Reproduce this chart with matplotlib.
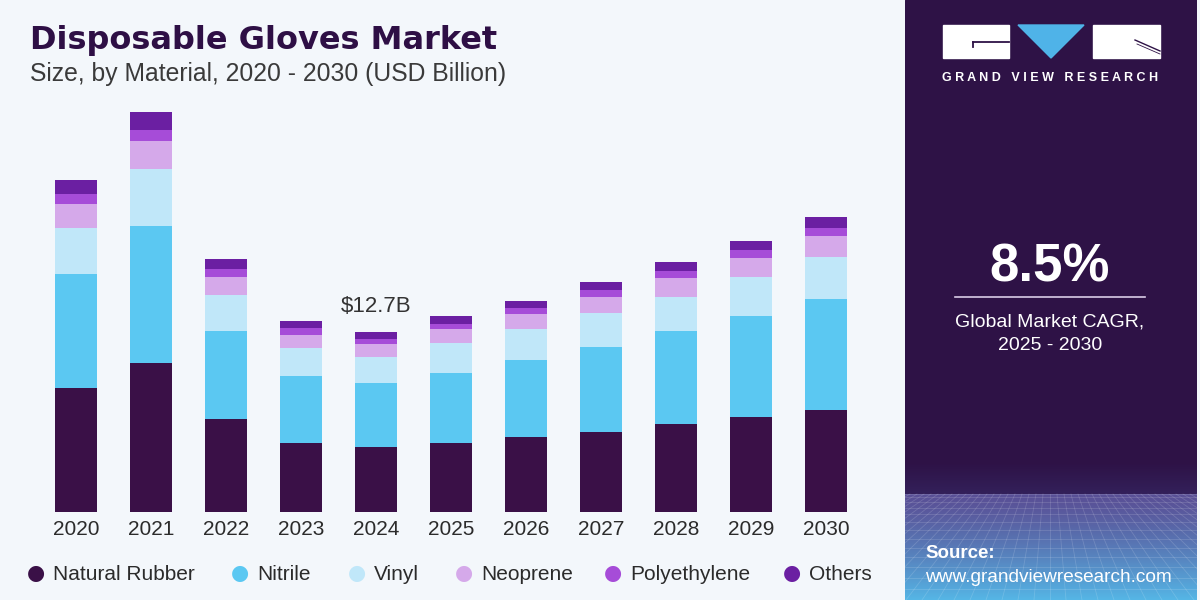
import numpy as np
import matplotlib
matplotlib.use('Agg')
import matplotlib.pyplot as plt
from matplotlib.patches import Rectangle, Polygon

plt.rcParams['font.family'] = ['Liberation Sans', 'DejaVu Sans']

# ---------------------------------------------------------------------------
# Données (USD milliards)
# ---------------------------------------------------------------------------
years = ['2020', '2021', '2022', '2023', '2024', '2025', '2026', '2027', '2028', '2029', '2030']
natural_rubber = [8.71, 10.47, 6.55, 4.88, 4.60, 4.88, 5.30, 5.66, 6.18, 6.67, 7.18]
nitrile = [8.03, 9.69, 6.20, 4.72, 4.51, 4.93, 5.40, 5.99, 6.57, 7.14, 7.82]
vinyl = [3.28, 3.99, 2.54, 1.93, 1.83, 2.07, 2.16, 2.35, 2.42, 2.73, 2.98]
neoprene = [1.65, 1.97, 1.25, 0.94, 0.89, 0.99, 1.06, 1.13, 1.30, 1.34, 1.48]
polyethylene = [0.70, 0.82, 0.58, 0.47, 0.33, 0.37, 0.42, 0.51, 0.51, 0.54, 0.56]
others = [1.01, 1.24, 0.70, 0.54, 0.54, 0.56, 0.54, 0.58, 0.66, 0.70, 0.77]

series = [
    ('Natural Rubber', natural_rubber, '#3A1047'),
    ('Nitrile', nitrile, '#5BC8F2'),
    ('Vinyl', vinyl, '#C0E7F9'),
    ('Neoprene', neoprene, '#D5A9EA'),
    ('Polyethylene', polyethylene, '#A64CD8'),
    ('Others', others, '#6B1FA2'),
]
highlight_year = '2024'
highlight_label = '$12.7B'

BG = '#F3F7FB'
PANEL = '#2E1246'
TXT = '#2B2B2B'

fig = plt.figure(figsize=(12, 6), dpi=100)
fig.patch.set_facecolor(BG)

# ---------------------------------------------------------------------------
# Graphique principal
# ---------------------------------------------------------------------------
ax = fig.add_axes([0.0, 88 / 600, 0.75, 412 / 600])
ax.set_facecolor(BG)
x = np.arange(len(years))
bottom = np.zeros(len(years))
for label, vals, color in series:
    ax.bar(x, vals, bottom=bottom, width=0.547, color=color, label=label, linewidth=0)
    bottom += np.array(vals)

ax.set_xlim(-76 / 75, (900 - 76) / 75)
ax.set_ylim(0, 412 * 12.7 / 180.3)
ax.set_xticks(x)
ax.set_xticklabels(years, fontsize=15, color=TXT)
ax.tick_params(axis='x', length=0, pad=6)
ax.set_yticks([])
for s in ax.spines.values():
    s.set_visible(False)

i = years.index(highlight_year)
ax.text(x[i], bottom[i] + 1.05, highlight_label, ha='center', va='bottom',
        fontsize=16, color='#333333')

fig.text(30 / 1200, 1 - 40 / 600, 'Disposable Gloves Market', fontsize=23,
         fontweight='heavy', family='DejaVu Sans', color='#2E0F45',
         va='center', ha='left')
fig.text(30 / 1200, 1 - 74 / 600, 'Size, by Material, 2020 - 2030 (USD Billion)',
         fontsize=17.8, color='#3A3A3A', va='center', ha='left')

# légende (cercles + libellés)
leg_x = [36, 240, 357, 464, 613, 792]
leg_y = 1 - 575 / 600
for (label, _, color), lx in zip(series, leg_x):
    fig.text(lx / 1200, leg_y + 2 / 600, '\u25CF', color=color, fontsize=15,
             family='DejaVu Sans', ha='center', va='center')
    fig.text((lx + 17) / 1200, leg_y, label, color=TXT, fontsize=15,
             ha='left', va='center')

# ---------------------------------------------------------------------------
# Panneau de droite
# ---------------------------------------------------------------------------
pan = fig.add_axes([905 / 1200, 0, 292 / 1200, 1])
pan.axis('off')
pan.add_patch(Rectangle((905, 0), 292, 600, color=PANEL, zorder=0))

# léger éclaircissement avant l'horizon
fade = np.linspace(0, 1, 50)[:, None, None]
c0 = np.array(matplotlib.colors.to_rgb(PANEL))
cmid = np.array(matplotlib.colors.to_rgb('#33205A'))
img0 = np.repeat(c0 + (cmid - c0) * fade, 2, axis=1)
pan.imshow(img0, extent=(905, 1197, 494, 462), aspect='auto', zorder=1)

# sol en dégradé
grad = np.linspace(0, 1, 200)[:, None, None]
c1 = np.array(matplotlib.colors.to_rgb('#5A5096'))
c2 = np.array(matplotlib.colors.to_rgb('#55B6E6'))
img = np.repeat(c1 + (c2 - c1) * grad ** 1.3, 2, axis=1)
pan.imshow(img, extent=(905, 1197, 600, 494), aspect='auto', zorder=1)

# grille en perspective
for k in range(14):
    yy = 494 + (k / 13) ** 1.4 * 106
    pan.plot([905, 1197], [yy, yy], color='white', alpha=0.15, lw=0.6, zorder=2)
for k in range(-24, 25):
    x0 = 1050 + k * 7
    x1 = 1050 + k * 16
    pan.plot([x0, x1], [494, 600], color='white', alpha=0.15, lw=0.6, zorder=2)
pan.set_xlim(905, 1197)
pan.set_ylim(600, 0)

# logo
pan.add_patch(Rectangle((943, 25), 66, 33, color='white', zorder=3))
pan.add_patch(Rectangle((1093, 25), 67, 33, color='white', zorder=3))
pan.add_patch(Polygon([(1018, 25), (1084, 25), (1051, 58)], color='#4FB3E8', zorder=3))
pan.plot([973, 1009], [42, 42], color='#2E1246', lw=1.3, zorder=4)
pan.plot([973, 973], [42, 47], color='#2E1246', lw=1.3, zorder=4)
pan.plot([1135, 1160], [40, 51], color='#2E1246', lw=1.0, zorder=4)
pan.plot([1137, 1160], [44, 54], color='#2E1246', lw=0.6, zorder=4)
pan.text(1050, 78, 'G R A N D   V I E W   R E S E A R C H', color='white', fontsize=9,
         fontweight='bold', ha='center', va='center', zorder=4)

pan.text(1050, 267, '8.5%', color='white', fontsize=38, fontweight='bold',
         ha='center', va='center', zorder=4)
pan.plot([955, 1145], [297, 297], color='#D9CCE6', lw=1.2, zorder=4)
pan.text(1050, 322, 'Global Market CAGR,', color='white', fontsize=14,
         ha='center', va='center', zorder=4)
pan.text(1050, 346, '2025 - 2030', color='white', fontsize=14,
         ha='center', va='center', zorder=4)
pan.text(925, 553, 'Source:', color='white', fontsize=13.5, fontweight='bold',
         ha='left', va='center', zorder=4)
pan.text(925, 577, 'www.grandviewresearch.com', color='white', fontsize=13.7,
         ha='left', va='center', zorder=4)

fig.savefig('out.png', dpi=100, facecolor=BG)
